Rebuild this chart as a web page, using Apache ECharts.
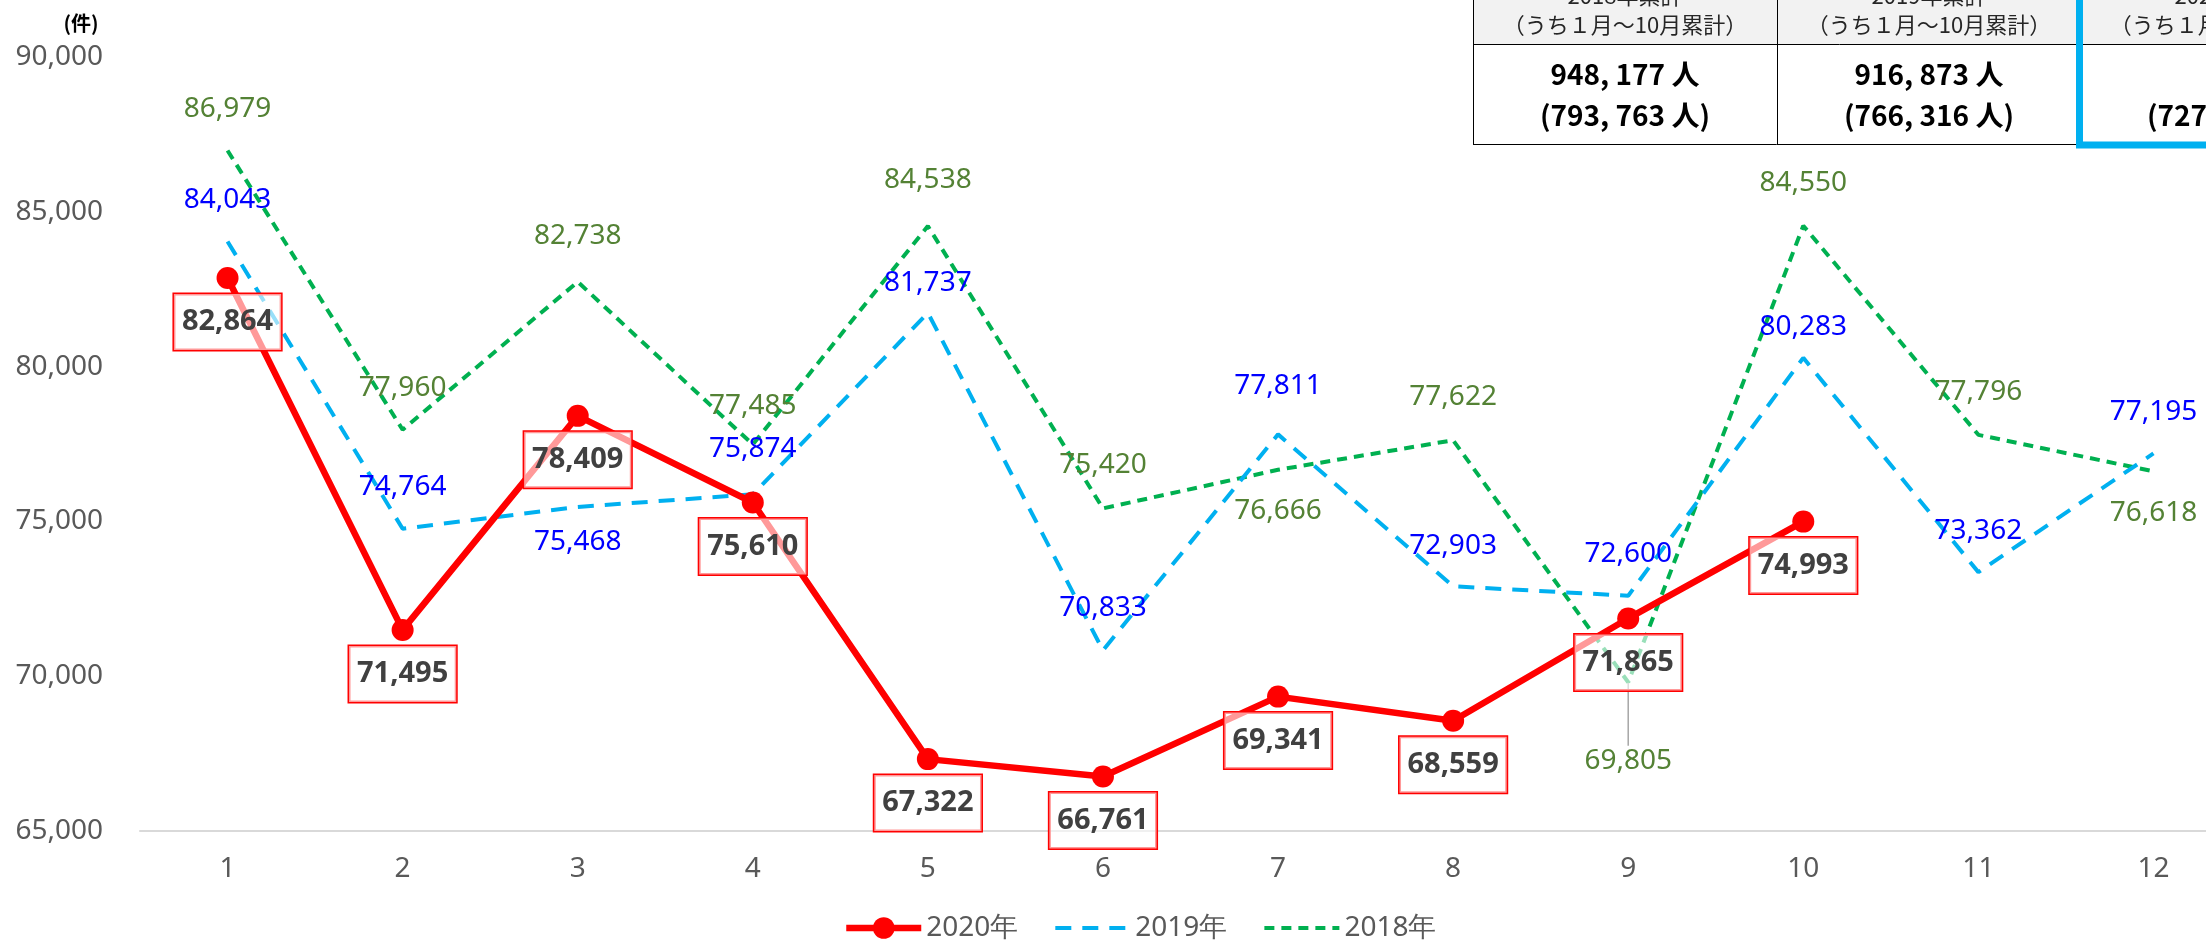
<!DOCTYPE html>
<html><head><meta charset="utf-8">
<script src="https://cdn.jsdelivr.net/npm/echarts@6/dist/echarts.min.js"></script>
<style>html,body{margin:0;padding:0;background:#fff}#c{width:2206px;height:941px}</style>
</head><body><div id="c"></div>
<script>
// ---- data ----
const months = ['1','2','3','4','5','6','7','8','9','10','11','12'];
const yMin = 65000, yMax = 90000, yStep = 5000;
const v2020 = [82864, 71495, 78409, 75610, 67322, 66761, 69341, 68559, 71865, 74993];
const v2019 = [84043, 74764, 75468, 75874, 81737, 70833, 77811, 72903, 72600, 80283, 73362, 77195];
const v2018 = [86979, 77960, 82738, 77485, 84538, 75420, 76666, 77622, 69805, 84550, 77796, 76618];
const seriesNames = ['2020年', '2019年', '2018年'];
const unitLabel = '(件)';
const tableHead1 = ['2018年累計', '2019年累計', '2020年累計'];
const tableHead2 = ['（うち１月〜10月累計）', '（うち１月〜10月累計）', '（うち１月〜10月累計）'];
const tableVal1 = ['948, 177 人', '916, 873 人', ''];
const tableVal2 = ['(793, 763 人)', '(766, 316 人)', '(727, 219 人)'];

// ---- label placement (style, not data) ----
const pos2019 = ['top','top','bottom','top','top','top','top','top','top','top','top','top'];
const dist2019 = [26,26,20,30,14,27,33,25,26,15,26,26];
const pos2018 = ['top','top','top','top','top','top','bottom','top','bottom','top','top','bottom'];
const dist2018 = [26,26,30,23,31,28,26,28,26,27,27,26];

const fmt = v => Number(v).toLocaleString('en-US');
const FONT = "'Noto Sans', sans-serif";
const CLEAR = 'rgba(0,0,0,0)';

function buildData(vals, pos, dist, extra) {
  return vals.map((v, i) => {
    const o = { value: v, label: { position: pos[i], distance: dist[i] } };
    if (extra && extra[i]) Object.assign(o, extra[i]);
    return o;
  });
}
const extra2018 = {};
extra2018[8] = { labelLine: { show: true, lineStyle: { color: '#a6a6a6', width: 1.5 } } };

const chart = echarts.init(document.getElementById('c'), null, { renderer: 'canvas' });

// table graphic
const colX = [1473, 1777, 2080];
const colW = 304;
const g = [];
g.push({ type: 'rect', shape: { x: 1473, y: -20, width: 1000, height: 64 }, style: { fill: '#F2F2F2' }, z: 100 });
g.push({ type: 'rect', shape: { x: 1473, y: 44, width: 1000, height: 100 }, style: { fill: '#ffffff' }, z: 100 });
g.push({ type: 'line', shape: { x1: 1473.5, y1: 0, x2: 1473.5, y2: 144 }, style: { stroke: '#000', lineWidth: 1 }, z: 101 });
g.push({ type: 'line', shape: { x1: 1777.5, y1: 0, x2: 1777.5, y2: 144 }, style: { stroke: '#000', lineWidth: 1 }, z: 101 });
g.push({ type: 'line', shape: { x1: 1473, y1: 44.5, x2: 2206, y2: 44.5 }, style: { stroke: '#000', lineWidth: 1 }, z: 101 });
g.push({ type: 'line', shape: { x1: 1473, y1: 144.5, x2: 2080, y2: 144.5 }, style: { stroke: '#000', lineWidth: 1 }, z: 101 });
g.push({ type: 'rect', shape: { x: 2079.5, y: -20, width: 400, height: 165 }, style: { fill: 'none', stroke: '#00B0F0', lineWidth: 7 }, z: 102 });
for (let i = 0; i < 3; i++) {
  const cx = colX[i] + colW / 2;
  g.push({ type: 'text', z: 103, style: { text: tableHead1[i], x: cx, y: -4, align: 'center', verticalAlign: 'middle', fill: '#262626', font: "22px 'Noto Sans CJK JP'" } });
  g.push({ type: 'text', z: 103, style: { text: tableHead2[i], x: cx, y: 25, align: 'center', verticalAlign: 'middle', fill: '#262626', font: "22px 'Noto Sans CJK JP'" } });
  g.push({ type: 'text', z: 103, style: { text: tableVal1[i], x: cx, y: 74, align: 'center', verticalAlign: 'middle', fill: '#000', font: "bold 28px 'Noto Sans CJK JP'" } });
  g.push({ type: 'text', z: 103, style: { text: tableVal2[i], x: cx, y: 115, align: 'center', verticalAlign: 'middle', fill: '#000', font: "bold 28px 'Noto Sans CJK JP'" } });
}
g.push({ type: 'text', z: 103, style: { text: unitLabel, x: 81, y: 23, align: 'center', verticalAlign: 'middle', fill: '#000', font: "bold 20px 'Noto Sans CJK JP'" } });

const option = {
  backgroundColor: '#fff',
  animation: false,
  textStyle: { fontFamily: FONT },
  grid: { left: 140, top: 57, width: 2101, bottom: 110, containLabel: false, outerBoundsMode: 'none' },
  legend: {
    data: seriesNames,
    left: 838, top: 909,
    itemWidth: 75, itemHeight: 27, itemGap: 35,
    textStyle: { color: '#595959', fontSize: 28, fontFamily: FONT },
    lineStyle: { width: 'inherit', type: 'inherit' }
  },
  xAxis: {
    type: 'category', data: months, boundaryGap: true,
    axisLine: { lineStyle: { color: '#d9d9d9', width: 2 } },
    axisTick: { show: false },
    axisLabel: { color: '#595959', fontSize: 28, margin: 24, fontFamily: FONT }
  },
  yAxis: {
    type: 'value', min: yMin, max: yMax, interval: yStep,
    axisLine: { show: false }, axisTick: { show: false },
    splitLine: { show: false },
    axisLabel: { color: '#595959', fontSize: 28, margin: 37, fontFamily: FONT, formatter: fmt }
  },
  graphic: g,
  series: [
    {
      name: seriesNames[2], type: 'line', z: 2,
      data: buildData(v2018, pos2018, dist2018, extra2018),
      symbol: 'circle', symbolSize: 1, showSymbol: true,
      itemStyle: { color: CLEAR },
      lineStyle: { color: '#00B050', width: 4, type: [10, 7] },
      label: { show: true, color: '#548235', fontSize: 28, lineHeight: 30, fontFamily: FONT, formatter: p => fmt(p.value) },
      labelLayout: p => (p.dataIndex === 8 ? { dy: 37 } : {}),
      labelLine: { show: false }
    },
    {
      name: seriesNames[1], type: 'line', z: 2,
      data: buildData(v2019, pos2019, dist2019),
      symbol: 'circle', symbolSize: 1, showSymbol: true,
      itemStyle: { color: CLEAR },
      lineStyle: { color: '#00B0F0', width: 4, type: [16, 11] },
      label: { show: true, color: '#0000FF', fontSize: 28, lineHeight: 30, fontFamily: FONT, formatter: p => fmt(p.value) }
    },
    {
      name: seriesNames[0], type: 'line', z: 3,
      data: v2020,
      symbol: 'circle', symbolSize: 22, showSymbol: true,
      itemStyle: { color: '#FF0000' },
      lineStyle: { color: '#FF0000', width: 6.5 },
      label: {
        show: true, position: 'bottom', distance: 5,
        color: '#404040', fontSize: 29, fontWeight: 'bold', fontFamily: FONT, lineHeight: 34,
        backgroundColor: 'rgba(255,255,255,0.6)', borderColor: '#FF0000', borderWidth: 1.5,
        padding: [11, 8, 11, 8],
        formatter: p => fmt(p.value)
      }
    }
  ]
};
chart.setOption(option);
</script></body></html>
